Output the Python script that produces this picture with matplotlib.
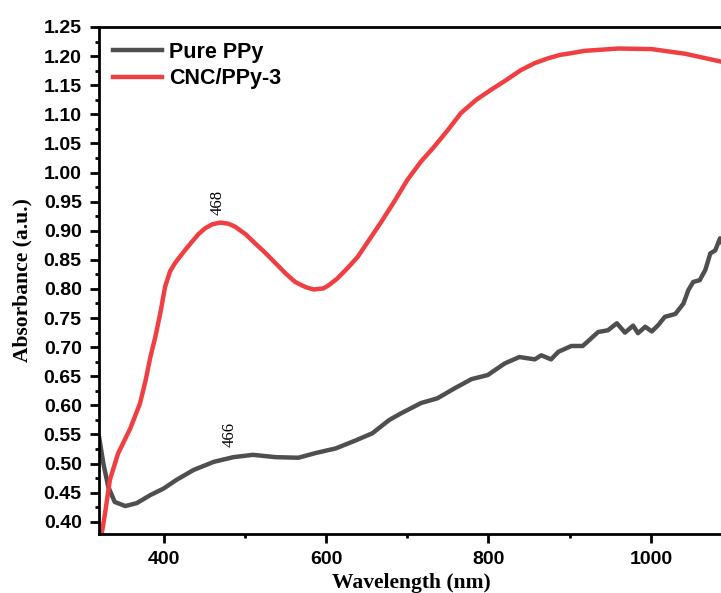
import numpy as np
import matplotlib.pyplot as plt
from matplotlib.ticker import MultipleLocator, FormatStrFormatter

# CNC/PPy-3 (rot)
wl_cnc = [324, 328, 334, 344, 359, 371, 378, 384, 390, 396, 402, 408, 414, 425, 435,
          443, 451, 460, 470, 480, 488, 501, 513, 526, 538, 550, 562, 575, 585, 597,
          604, 614, 626, 639, 653, 667, 684, 700, 717, 733, 750, 766, 785, 803, 822,
          840, 857, 873, 888, 902, 918, 960, 1001, 1042, 1088]
abs_cnc = [0.380, 0.414, 0.472, 0.517, 0.560, 0.603, 0.643, 0.684, 0.718, 0.758, 0.804,
           0.830, 0.844, 0.864, 0.881, 0.894, 0.904, 0.911, 0.914, 0.912, 0.907, 0.894,
           0.878, 0.861, 0.844, 0.827, 0.812, 0.803, 0.799, 0.801, 0.807, 0.818, 0.835,
           0.855, 0.884, 0.913, 0.950, 0.987, 1.019, 1.044, 1.073, 1.102, 1.125, 1.142,
           1.159, 1.176, 1.188, 1.196, 1.202, 1.205, 1.209, 1.213, 1.212, 1.204, 1.190]

# Pure PPy (grau)
wl_ppy = [321, 326, 332, 340, 353, 367, 384, 400, 416, 437, 462, 486, 510, 538, 566,
          587, 612, 637, 657, 678, 692, 717, 737, 758, 779, 799, 820, 838, 857, 865,
          877, 886, 902, 916, 935, 947, 958, 968, 978, 984, 993, 1001, 1009, 1017, 1030,
          1040, 1046, 1052, 1060, 1067, 1073, 1079, 1085, 1088]
abs_ppy = [0.543, 0.500, 0.460, 0.434, 0.427, 0.432, 0.446, 0.457, 0.472, 0.489, 0.503,
           0.511, 0.515, 0.511, 0.510, 0.518, 0.526, 0.540, 0.552, 0.575, 0.586, 0.604,
           0.612, 0.629, 0.645, 0.652, 0.672, 0.683, 0.679, 0.686, 0.679, 0.692, 0.702,
           0.702, 0.726, 0.729, 0.741, 0.725, 0.737, 0.724, 0.735, 0.727, 0.738, 0.752,
           0.757, 0.775, 0.798, 0.812, 0.815, 0.833, 0.861, 0.866, 0.887, 0.878]

fig = plt.figure(figsize=(7.21, 5.93), dpi=100)
ax = fig.add_axes([0.1373, 0.0995, 0.867, 0.855])

ax.plot(wl_ppy, abs_ppy, color="#4f4f4f", lw=3.2, label="Pure PPy")
ax.plot(wl_cnc, abs_cnc, color="#ef3f43", lw=3.2, label="CNC/PPy-3")

ax.set_xlim(320.6, 1090)
ax.set_ylim(0.379, 1.25)

ax.xaxis.set_major_locator(MultipleLocator(200))
ax.xaxis.set_minor_locator(MultipleLocator(100))
ax.yaxis.set_major_locator(MultipleLocator(0.05))
ax.yaxis.set_minor_locator(MultipleLocator(0.025))
ax.yaxis.set_major_formatter(FormatStrFormatter("%.2f"))

ax.tick_params(which="both", direction="out", width=2, top=False, right=False)
ax.tick_params(which="major", length=6.5, pad=6)
ax.tick_params(which="minor", length=3)
for lab in ax.get_xticklabels() + ax.get_yticklabels():
    lab.set_fontfamily("Liberation Sans")
    lab.set_fontweight("bold")
    lab.set_fontsize(14)
for sp in ax.spines.values():
    sp.set_linewidth(2)
ax.spines["right"].set_visible(False)

ax.set_xlabel("Wavelength (nm)", family="Liberation Serif", weight="bold", fontsize=15.5, labelpad=3)
ax.set_ylabel("Absorbance (a.u.)", family="Liberation Serif", weight="bold", fontsize=15.5, labelpad=8)

#Peak Beschriftungen
ax.text(467, 0.927, "468", rotation=90, family="Liberation Serif", fontsize=12, ha="center", va="bottom")
ax.text(481, 0.529, "466", rotation=90, family="Liberation Serif", fontsize=12, ha="center", va="bottom")

leg = ax.legend(loc="upper left", bbox_to_anchor=(0.008, 0.988), frameon=False,
                handlelength=2.3, handletextpad=0.33, borderaxespad=0, labelspacing=0.25,
                prop={"family": "Liberation Sans", "weight": "bold", "size": 15.5})

fig.savefig("out.png", dpi=100)
